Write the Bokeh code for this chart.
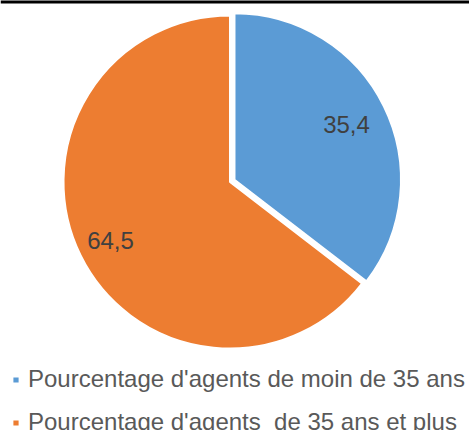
import numpy as np
from bokeh.plotting import figure
from bokeh.models import Range1d, Legend, LegendItem, Span, ColumnDataSource
from bokeh.core.properties import value
from bokeh.embed import file_html
from bokeh.resources import INLINE

# ---- data ----
categories = ["Pourcentage d'agents de moin de 35 ans",
              "Pourcentage d'agents  de 35 ans et plus"]
values = [35.4, 64.5]
labels = ["35,4", "64,5"]
colors = ["#5B9BD5", "#ED7D31"]
explode = [5, 0]

W, H = 469, 430
p = figure(width=W, height=H, x_range=Range1d(0, W), y_range=Range1d(0, H),
           output_backend="svg", toolbar_location=None, min_border=0)
p.axis.visible = False
p.grid.visible = False
p.outline_line_color = None

cx, cy, R = 229.5, H - 181.5, 166.5
vals = np.array(values, dtype=float)
frac = vals / vals.sum()
ends = np.cumsum(frac)
starts = ends - frac
start_ang = np.pi / 2 - 2 * np.pi * starts
end_ang = np.pi / 2 - 2 * np.pi * ends
mid_ang = (start_ang + end_ang) / 2

xs = cx + np.array(explode) * np.cos(mid_ang)
ys = cy + np.array(explode) * np.sin(mid_ang)

renderers = []
for i in range(len(values)):
    r = p.wedge(x=[xs[i]], y=[ys[i]], radius=R, start_angle=[start_ang[i]],
                end_angle=[end_ang[i]], direction="clock",
                fill_color=colors[i], line_color="white", line_width=2)
    renderers.append(r)

lr = np.array([0.75, 0.80]) * R
src = ColumnDataSource(dict(x=xs + lr * np.cos(mid_ang), y=ys + lr * np.sin(mid_ang), t=labels))
p.text(x="x", y="y", text="t", source=src, text_align="center", text_baseline="middle",
       text_font_size="24px", text_color="#404040", text_font=value("Liberation Sans"))

p.add_layout(Span(location=H, dimension="width", line_color="black", line_width=6))

legend = Legend(items=[LegendItem(label=categories[i], renderers=[renderers[i]]) for i in range(2)],
                location=(11, -6), orientation="vertical",
                label_text_font_size="24px", label_text_color="#595959",
                label_text_font="Liberation Sans",
                glyph_width=9, glyph_height=9, label_standoff=8,
                spacing=15, padding=0, margin=0,
                border_line_color=None, background_fill_alpha=0)
p.add_layout(legend, "center")

open("out.html", "w").write(file_html(p, INLINE))
